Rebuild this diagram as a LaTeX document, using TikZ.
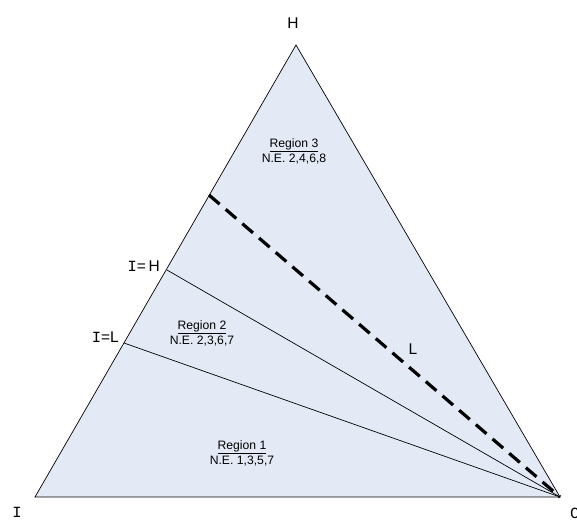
\documentclass[tikz,border=0pt]{standalone}
\usepackage{fontspec}
\setmainfont{Liberation Sans}
\newfontfamily\monofnt{Liberation Mono}
\begin{document}
\begin{tikzpicture}[x=1pt,y=-1pt,
  lbl/.style={font=\fontsize{15.5}{17}\selectfont, inner sep=0pt},
  reg/.style={font=\fontsize{12.2}{15}\selectfont, align=center, inner sep=0pt},
  thinln/.style={draw=black, line width=0.7pt},
  dashln/.style={draw=black, line width=3.2pt, dash pattern=on 14pt off 8pt}]
\useasboundingbox (0,0) rectangle (577,519);
\coordinate (T) at (296,45);
\coordinate (I) at (35,497);
\coordinate (C) at (560,497);
\coordinate (IH) at (167,270);
\coordinate (IL) at (124,343);
\coordinate (D) at (209,195);
\fill[fill={rgb,255:red,228;green,234;blue,245}] (T) -- (I) -- (C) -- cycle;
\draw[thinln] (IH) -- (C);
\draw[thinln] (IL) -- (C);
\draw[dashln] (D) -- (C);
\draw[thinln, line join=miter] (T) -- (I) -- (C) -- cycle;
\node[lbl] (lH) at (293,23) {H};
\node[lbl, anchor=east] (lIH) at (160,266) {{\monofnt I}=\,H};
\node[lbl, anchor=east] (lIL) at (119,337) {{\monofnt I}=L};
\node[lbl] (lI) at (17,512) {\monofnt I};
\node[lbl, anchor=west] (lC) at (570,513) {\monofnt C};
\node[lbl] (lL) at (413,349) {L};
\node[reg] (r3) at (294,151) {\underline{Region 3}\\N.E. 2,4,6,8};
\node[reg] (r2) at (202,333) {\underline{Region 2}\\N.E. 2,3,6,7};
\node[reg] (r1) at (242,453) {\underline{Region 1}\\N.E. 1,3,5,7};
\end{tikzpicture}
\end{document}
